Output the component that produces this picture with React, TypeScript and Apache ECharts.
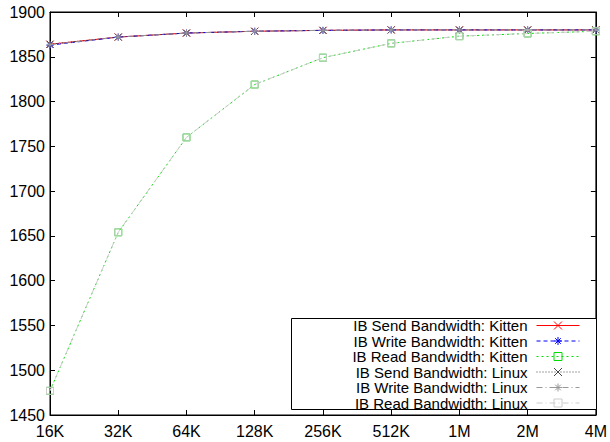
import React, { useEffect, useRef } from "react";
import * as echarts from "echarts";

const categories = ["16K", "32K", "64K", "128K", "256K", "512K", "1M", "2M", "4M"];
const kittenSend = [1864, 1872, 1876.5, 1878.5, 1879.5, 1880, 1880, 1880, 1880];
const kittenWrite = [1863, 1872, 1876.5, 1878.5, 1879.5, 1880, 1880, 1880, 1880];
const kittenRead = [1477, 1654, 1760, 1819, 1849, 1865, 1873, 1876, 1878.5];
const linuxSend = [1864, 1872, 1876.5, 1878.5, 1879.5, 1880, 1880, 1880, 1880];
const linuxWrite = [1863.5, 1872, 1876.5, 1878.5, 1879.5, 1880, 1880, 1880, 1880];
const linuxRead = [1477, 1654, 1760, 1819, 1849, 1865, 1873, 1876, 1878.5];

const seriesNames = [
  "IB Send Bandwidth: Kitten",
  "IB Write Bandwidth: Kitten",
  "IB Read Bandwidth: Kitten",
  "IB Send Bandwidth: Linux",
  "IB Write Bandwidth: Linux",
  "IB Read Bandwidth: Linux",
];

const FONT = "'Liberation Sans', Arial, Helvetica, sans-serif";
const SYM_X = "path://M0,0L10,10M10,0L0,10";
const SYM_STAR = "path://M0,5L10,5M5,0L5,10M1.5,1.5L8.5,8.5M8.5,1.5L1.5,8.5";
const SYM_SQ = "path://M0,0L10,0L10,10L0,10Z";

function mk(name: string, data: number[], color: string, type: any, symbol: string, z: number) {
  return {
    name,
    type: "line",
    data,
    symbol,
    symbolSize: 7,
    showSymbol: true,
    z,
    lineStyle: { color, width: 1, type },
    itemStyle: { color: "none", borderColor: color, borderWidth: 1 },
    emphasis: { disabled: true },
  };
}

export default function App() {
  const ref = useRef<HTMLDivElement>(null);
  useEffect(() => {
    if (!ref.current) return;
    document.body.style.margin = "0";
    const chart = echarts.init(ref.current, undefined, { renderer: "svg" });
    const axisLabelY = {
      color: "#000",
      fontSize: 16,
      fontFamily: FONT,
      margin: 5,
      formatter: (v: number) => String(v),
    };
    chart.setOption({
      animation: false,
      backgroundColor: "#fff",
      textStyle: { fontFamily: FONT },
      grid: {
        left: 50,
        right: 13,
        top: 12,
        bottom: 27,
        show: true,
        borderColor: "#000",
        borderWidth: 1,
        backgroundColor: "transparent",
      },
      xAxis: [
        {
          type: "category",
          data: categories,
          boundaryGap: false,
          axisLine: { show: true, lineStyle: { color: "#000", width: 1 } },
          axisTick: { show: true, inside: true, length: 5, lineStyle: { color: "#000" } },
          axisLabel: { color: "#000", fontSize: 16, fontFamily: FONT, margin: 8 },
          splitLine: { show: false },
        },
        {
          type: "category",
          data: categories,
          boundaryGap: false,
          position: "top",
          axisLine: { show: true, lineStyle: { color: "#000", width: 1 } },
          axisTick: { show: true, inside: true, length: 5, lineStyle: { color: "#000" } },
          axisLabel: { show: false },
          splitLine: { show: false },
        },
      ],
      yAxis: [
        {
          type: "value",
          min: 1450,
          max: 1900,
          interval: 50,
          axisLine: { show: true, lineStyle: { color: "#000", width: 1 } },
          axisTick: { show: true, inside: true, length: 5, lineStyle: { color: "#000" } },
          axisLabel: axisLabelY,
          splitLine: { show: false },
        },
        {
          type: "value",
          min: 1450,
          max: 1900,
          interval: 50,
          position: "right",
          axisLine: { show: true, lineStyle: { color: "#000", width: 1 } },
          axisTick: { show: true, inside: true, length: 5, lineStyle: { color: "#000" } },
          axisLabel: { show: false },
          splitLine: { show: false },
        },
      ],
      legend: {
        orient: "vertical",
        align: "right",
        right: 30,
        top: 318,
        padding: 0,
        itemGap: 0.5,
        itemWidth: 43,
        itemHeight: 10,
        itemStyle: { borderWidth: 1 },
        lineStyle: { width: 1 },
        textStyle: {
          color: "#000",
          fontSize: 15,
          fontFamily: FONT,
          padding: [0, 4, 0, 0],
        },
        data: seriesNames,
        selectedMode: false,
        z: 10,
      },
      graphic: [
        {
          type: "rect",
          left: 291,
          top: 318,
          shape: { width: 305, height: 91 },
          style: { fill: "#fff", stroke: "#000", lineWidth: 1 },
          z: 5,
          silent: true,
        },
      ],
      series: [
        mk(seriesNames[0], kittenSend, "#ff0000", "solid", SYM_X, 2),
        mk(seriesNames[1], kittenWrite, "#0000ff", [4, 3], SYM_STAR, 3),
        mk(seriesNames[2], kittenRead, "#00dd00", [2, 3], SYM_SQ, 4),
        mk(seriesNames[3], linuxSend, "#444444", [1, 2], SYM_X, 5),
        mk(seriesNames[4], linuxWrite, "#999999", [6, 3, 1, 3], SYM_STAR, 6),
        mk(seriesNames[5], linuxRead, "#cccccc", [6, 3, 1, 3], SYM_SQ, 7),
      ],
    });
    return () => chart.dispose();
  }, []);
  return <div ref={ref} style={{ width: 610, height: 442 }} />;
}
